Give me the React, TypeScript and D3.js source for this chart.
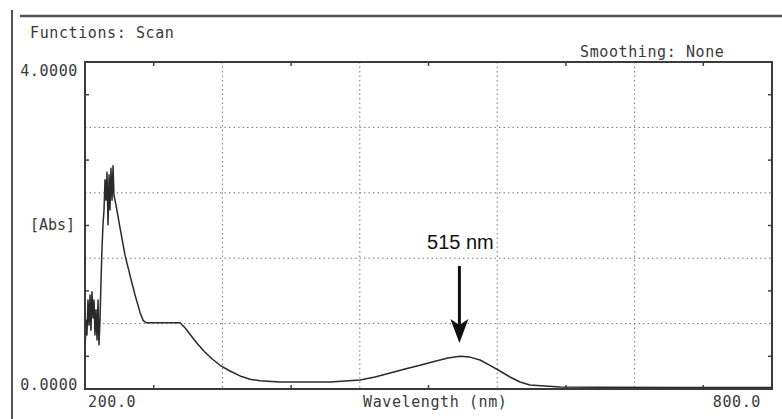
import React from 'react';
import * as d3 from 'd3';

// wavelength (nm) and absorbance
const wavelength = [
  200, 200.9, 201.7, 202.6, 203.5, 204.4, 205.2, 206.1, 207.0, 207.9, 208.7, 209.6, 210.5, 211.4, 212.2, 213.1,
  214.0, 214.8, 215.7, 216.6, 217.5, 218.3, 219.2, 220.1, 221.0, 221.8, 222.7, 223.6, 224.5, 225.3, 227.1,
  230.6, 234.9, 239.3, 243.7, 248.0, 250.7, 253.3, 283.0, 287.3, 291.7, 297.8, 304.8, 310.9, 317.9, 326.6,
  335.4, 344.1, 352.8, 370.3, 387.8, 414.0, 440.2, 453.3, 466.4, 479.5, 492.6, 505.7, 517.0, 527.5, 536.2,
  545.0, 553.7, 562.4, 571.2, 579.9, 588.6, 601.7, 614.8, 649.8, 720, 800,
];
const absorbance = [
  0.45, 0.84, 0.66, 1.09, 0.78, 1.15, 0.72, 1.19, 0.87, 1.09, 0.66, 0.97, 0.60, 1.09, 0.54, 0.84,
  1.33, 1.70, 2.01, 2.19, 2.56, 2.31, 2.65, 2.01, 2.62, 2.19, 2.70, 2.31, 2.73, 2.37, 2.25,
  1.97, 1.64, 1.39, 1.15, 0.94, 0.84, 0.81, 0.81, 0.75, 0.67, 0.56, 0.45, 0.37, 0.29, 0.22,
  0.16, 0.12, 0.10, 0.086, 0.086, 0.086, 0.11, 0.147, 0.196, 0.245, 0.29, 0.34, 0.38, 0.40, 0.39,
  0.355, 0.29, 0.22, 0.147, 0.086, 0.05, 0.037, 0.024, 0.02, 0.018, 0.018,
];

const xGrid = [320, 440, 560, 680];
const yGrid = [0.8, 1.6, 2.4, 3.2];
const xMinor = [260, 380, 500, 620, 740];
const yMinor = [0.4, 1.2, 2.0, 2.8, 3.6];
const xTickLabels = ['200.0', '800.0'];
const yTickLabels = ['0.0000', '4.0000'];
const peakLabel = '515 nm';
const peakAt = 527;

const W = 782;
const H = 419;
const mono = '"DejaVu Sans Mono", monospace';
const textColor = '#3a3a3a';

export default function App() {
  const x = d3.scaleLinear().domain([200, 800]).range([85, 772]);
  const y = d3.scaleLinear().domain([0, 4]).range([389, 62]);
  const pts = wavelength.map((w, i) => [w, absorbance[i]] as [number, number]);
  const line = d3.line<[number, number]>().x(d => x(d[0])).y(d => y(d[1]));

  const [x0, x1] = x.range();
  const [y0, y1] = y.range();
  const ax = x(peakAt);

  return (
    <svg width={W} height={H} style={{ position: 'absolute', left: 0, top: 0, background: '#fff' }}>
      {/* outer frame of the printout */}
      <line x1={12} y1={10} x2={12} y2={H} stroke="#555" strokeWidth={2} />
      <line x1={20} y1={16} x2={W} y2={16} stroke="#555" strokeWidth={2.5} />

      <text x={30} y={38} fontFamily={mono} fontSize={15} letterSpacing={0.6} fill={textColor}>Functions: Scan</text>
      <text x={580} y={57} fontFamily={mono} fontSize={15} letterSpacing={0.6} fill={textColor}>Smoothing: None</text>

      {/* grid */}
      {xGrid.map(v => (
        <line key={'gx' + v} x1={x(v)} x2={x(v)} y1={y1} y2={y0} stroke="#777" strokeWidth={1} strokeDasharray="1.5,3" />
      ))}
      {yGrid.map(v => (
        <line key={'gy' + v} x1={x0} x2={x1} y1={y(v)} y2={y(v)} stroke="#777" strokeWidth={1} strokeDasharray="1.5,3" />
      ))}

      {/* minor ticks, pointing inward */}
      {xMinor.map(v => (
        <g key={'mx' + v}>
          <line x1={x(v)} x2={x(v)} y1={y0} y2={y0 - 4} stroke="#444" strokeWidth={1.5} />
          <line x1={x(v)} x2={x(v)} y1={y1} y2={y1 + 4} stroke="#444" strokeWidth={1.5} />
        </g>
      ))}
      {yMinor.map(v => (
        <g key={'my' + v}>
          <line x1={x0} x2={x0 + 4} y1={y(v)} y2={y(v)} stroke="#444" strokeWidth={1.5} />
          <line x1={x1} x2={x1 - 4} y1={y(v)} y2={y(v)} stroke="#444" strokeWidth={1.5} />
        </g>
      ))}

      {/* spectrum */}
      <path d={line(pts) ?? ''} fill="none" stroke="#2a2a2a" strokeWidth={1.5} strokeLinejoin="round" />

      {/* plot box */}
      <rect x={x0} y={y1} width={x1 - x0} height={y0 - y1} fill="none" stroke="#3a3a3a" strokeWidth={2} />

      {/* axis labels */}
      <text x={78} y={76} textAnchor="end" fontFamily={mono} fontSize={15} letterSpacing={0.6} fill={textColor}>{yTickLabels[1]}</text>
      <text x={78} y={390} textAnchor="end" fontFamily={mono} fontSize={15} letterSpacing={0.6} fill={textColor}>{yTickLabels[0]}</text>
      <text x={30} y={230} fontFamily={mono} fontSize={15} fill={textColor}>[Abs]</text>
      <text x={88} y={407} fontFamily={mono} fontSize={15} letterSpacing={0.6} fill={textColor}>{xTickLabels[0]}</text>
      <text x={761} y={407} textAnchor="end" fontFamily={mono} fontSize={15} letterSpacing={0.6} fill={textColor}>{xTickLabels[1]}</text>
      <text x={363} y={407} fontFamily={mono} fontSize={15} letterSpacing={0.6} fill={textColor}>Wavelength (nm)</text>

      {/* peak annotation */}
      <text x={ax + 1} y={249} textAnchor="middle" fontFamily='"Liberation Sans", Arial, sans-serif' fontSize={20} fill="#111">{peakLabel}</text>
      <line x1={ax} x2={ax} y1={266} y2={330} stroke="#111" strokeWidth={3} />
      <path d={`M${ax - 9},319 L${ax},343 L${ax + 9},319 L${ax},325 Z`} fill="#111" />
    </svg>
  );
}
